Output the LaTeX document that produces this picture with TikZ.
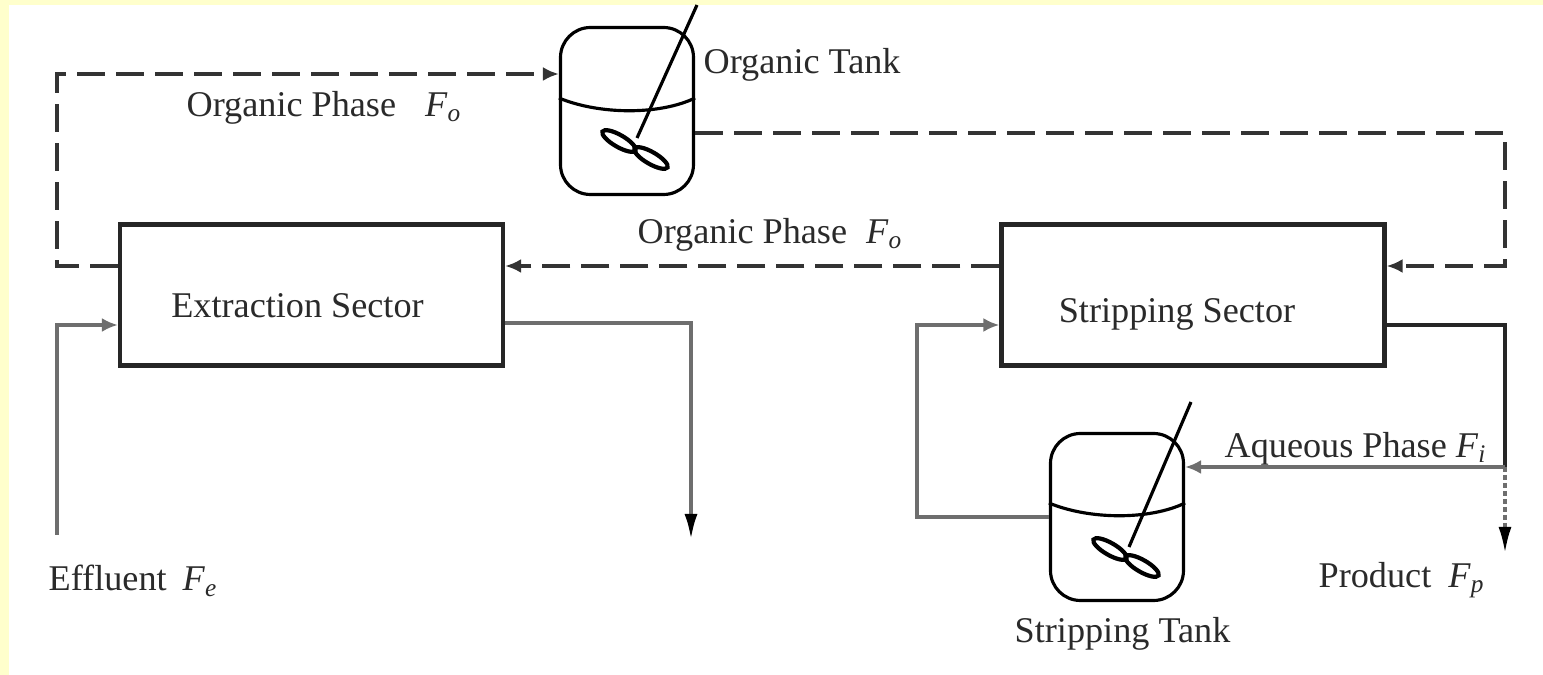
\documentclass[tikz,border=0pt]{standalone}
\usepackage{fontspec}
\setmainfont{Liberation Serif}
\usetikzlibrary{arrows.meta}
\definecolor{pagebar}{HTML}{FFFFCC}
\definecolor{labelgray}{HTML}{2A2A2A}
\definecolor{linegray}{HTML}{6E6E6E}
\tikzset{
    sectorbox/.style={draw=black!85, line width=1.2pt, minimum width=3.83cm, minimum height=1.41cm, inner sep=0pt, text depth=0pt, text=labelgray, font=\fontsize{10.3}{12}\selectfont},
    tankbox/.style={draw=black, line width=0.9pt, rounded corners=0.3cm, minimum width=1.33cm, minimum height=1.67cm, inner sep=0pt},
    tanklabel/.style={text=labelgray, inner sep=0pt, font=\fontsize{10.3}{12}\selectfont},
    flowsolid/.style={draw=black!85, line width=0.9pt},
    flowgray/.style={draw=linegray, line width=1.1pt},
    flowdash/.style={draw=black!80, line width=0.9pt, dash pattern=on 0.28cm off 0.11cm},
    flowdots/.style={draw=linegray, line width=0.9pt, dash pattern=on 0.05cm off 0.03cm},
    flowtip/.style={-{Latex[length=0.16cm,width=0.14cm]}},
    longtip/.style={-{Latex[length=0.26cm,width=0.13cm,black]}},
    stirrer/.style={draw=black, line width=0.9pt},
    paddle/.style={draw=black, line width=1.2pt}
}
\begin{document}
\begin{tikzpicture}
    \useasboundingbox (0,0) rectangle (15.43,6.75);

    % page background
    \fill[pagebar] (0,0) rectangle (15.43,6.75);
    \fill[white] (0.09,0) rectangle (15.43,6.70);

    % sectors
    \node[sectorbox, text height=0.46cm] (extract) at (3.115,3.80) {Extraction Sector\rule{0.28cm}{0pt}};
    \node[sectorbox, text height=0.56cm] (strip) at (11.93,3.80) {Stripping Sector\rule{0.32cm}{0pt}};

    % organic tank
    \node[tankbox] (orgtank) at (6.27,5.64) {};
    \draw[stirrer] (orgtank.west |- 0,5.77) .. controls (6.0,5.60) and (6.6,5.60) .. (orgtank.east |- 0,5.77);
    \coordinate (orgtop) at (6.97,6.70);
    \coordinate (orghub) at (6.37,5.37);
    \draw[stirrer] (orgtop) -- (orghub);
    \draw[paddle] (6.19,5.34) ellipse [x radius=0.19cm, y radius=0.06cm, rotate=-30];
    \draw[paddle] (6.51,5.17) ellipse [x radius=0.19cm, y radius=0.06cm, rotate=-30];

    % stripping tank
    \node[tankbox] (striptank) at (11.17,1.58) {};
    \draw[stirrer] (striptank.west |- 0,1.72) .. controls (10.9,1.55) and (11.5,1.55) .. (striptank.east |- 0,1.72);
    \coordinate (striptop) at (11.91,2.73);
    \coordinate (striphub) at (11.29,1.28);
    \draw[stirrer] (striptop) -- (striphub);
    \draw[paddle] (11.10,1.26) ellipse [x radius=0.19cm, y radius=0.06cm, rotate=-30];
    \draw[paddle] (11.42,1.09) ellipse [x radius=0.19cm, y radius=0.06cm, rotate=-30];

    % organic phase loop
    \coordinate (corner a) at (0.57,4.09);
    \coordinate (corner b) at (0.57,6.01);
    \coordinate (orgin) at (orgtank.west |- corner b);
    \coordinate (extrup) at (extract.west |- corner a);
    \draw[flowdash, flowtip] (extrup) -- (corner a) -- (corner b) -- (orgin);
    \coordinate (orgout) at (orgtank.east |- 0,5.42);
    \coordinate (corner c) at (15.05,5.42);
    \coordinate (corner d) at (15.05,4.09);
    \coordinate (stripup) at (strip.east |- corner d);
    \draw[flowdash, flowtip] (orgout) -- (corner c) -- (corner d) -- (stripup);
    \coordinate (stripleft) at (strip.west |- corner d);
    \coordinate (extrright) at (extract.east |- corner d);
    \draw[flowdash, flowtip] (stripleft) -- (extrright);

    % extraction streams
    \coordinate (efflow) at (0.57,1.40);
    \coordinate (extrin) at (extract.west |- 0,3.50);
    \draw[flowgray, flowtip] (efflow) |- (extrin);
    \coordinate (extrout) at (extract.east |- 0,3.52);
    \coordinate (raffout) at (6.91,1.35);
    \draw[flowgray, longtip] (extrout) -| (raffout);

    % stripping streams
    \coordinate (stripin) at (strip.west |- 0,3.50);
    \coordinate (tankout) at (striptank.west |- 0,1.58);
    \draw[flowgray, flowtip] (tankout) -- (9.17,1.58) |- (stripin);
    \coordinate (stripout) at (strip.east |- 0,3.50);
    \coordinate (branch) at (15.05,2.08);
    \draw[flowsolid] (stripout) -| (branch);
    \coordinate (tankin) at (striptank.east |- branch);
    \draw[flowgray, flowtip] (branch) -- (tankin);
    \coordinate (prodout) at (15.05,1.22);
    \draw[flowdots, longtip] (branch) -- (prodout);

    % labels
    \node[tanklabel, anchor=west] (orglabel) at (1.86,5.67) {Organic Phase\hspace{0.20cm} \textit{F}\textsubscript{\textit{o}}};
    \node[tanklabel, anchor=west] (orglabeltwo) at (6.37,4.40) {Organic Phase\hspace{0.10cm} \textit{F}\textsubscript{\textit{o}}};
    \node[tanklabel, anchor=west] (orgname) at (7.03,6.10) {Organic Tank};
    \node[tanklabel, anchor=west] (aqlabel) at (12.24,2.26) {Aqueous Phase \textit{F}\textsubscript{\textit{i}}};
    \node[tanklabel, anchor=west] (efflabel) at (0.48,0.94) {Effluent\hspace{0.07cm} \textit{F}\textsubscript{\textit{e}}};
    \node[tanklabel, anchor=west] (prodlabel) at (13.18,0.95) {Product\hspace{0.08cm} \textit{F}\textsubscript{\textit{p}}};
    \node[tanklabel, anchor=west] (striplabel) at (10.14,0.41) {Stripping Tank};
\end{tikzpicture}
\end{document}
